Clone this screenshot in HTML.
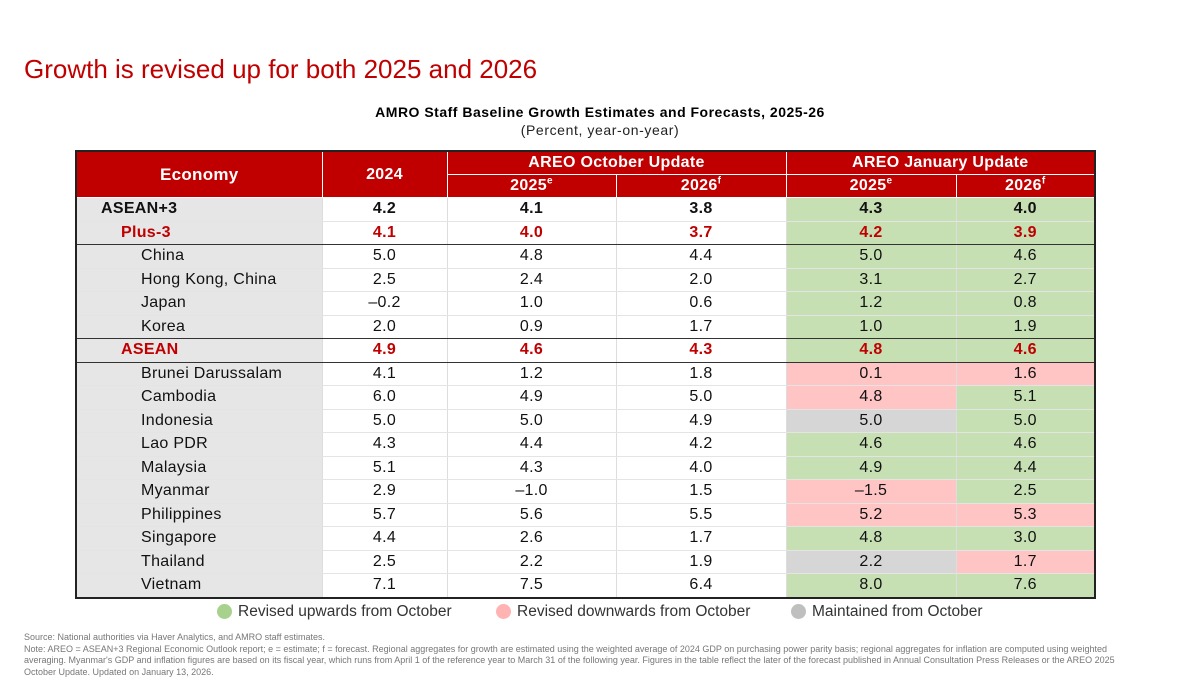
<!DOCTYPE html>
<html><head><meta charset="utf-8"><style>
body{margin:0;width:1200px;height:700px;background:#fff;font-family:"Liberation Sans",sans-serif;position:relative;overflow:hidden}
.t{position:absolute;white-space:nowrap}
table{position:absolute;left:75px;top:150px;border-collapse:collapse;table-layout:fixed;border:2px solid #222}
td{padding:0;font-size:16px;text-align:center;color:#111;border-left:1px solid #ddd;border-bottom:1px solid #e4e4e4;height:22.5px;line-height:20px;letter-spacing:0.3px}
.h td{background:#c00000;color:#fff;font-weight:bold;border-color:#fff;height:22px}
td.n{background:#e6e6e6;text-align:left}
.g{background:#c6e0b4}.p{background:#ffc4c4}.y{background:#d6d6d6}
.b td{font-weight:bold}.r td{color:#c00000}
.dk td{border-bottom:1.5px solid #333}
sup{font-size:10px;line-height:0}
</style></head><body>
<div class="t" style="left:24px;top:54px;font-size:26px;color:#c00000">Growth is revised up for both 2025 and 2026</div>
<div class="t" style="left:0;width:1200px;text-align:center;top:104px;font-size:14px;font-weight:bold;letter-spacing:0.5px">AMRO Staff Baseline Growth Estimates and Forecasts, 2025-26</div>
<div class="t" style="left:0;width:1200px;text-align:center;top:122px;font-size:14px;color:#222;letter-spacing:0.6px">(Percent, year-on-year)</div>
<table>
<colgroup><col style="width:246px"><col style="width:125px"><col style="width:169px"><col style="width:170px"><col style="width:170px"><col style="width:139px"></colgroup>
<tr class="h"><td rowspan="2" style="font-size:17px">Economy</td><td rowspan="2">2024</td><td colspan="2">AREO October Update</td><td colspan="2">AREO January Update</td></tr>
<tr class="h"><td>2025<sup>e</sup></td><td>2026<sup>f</sup></td><td>2025<sup>e</sup></td><td>2026<sup>f</sup></td></tr>
<tr class="b" style="border-bottom:1px solid #888"><td class="n" style="padding-left:24px">ASEAN+3</td><td>4.2</td><td>4.1</td><td>3.8</td><td class="g">4.3</td><td class="g">4.0</td></tr>
<tr class="b r dk"><td class="n" style="padding-left:44px">Plus-3</td><td>4.1</td><td>4.0</td><td>3.7</td><td class="g">4.2</td><td class="g">3.9</td></tr>
<tr><td class="n" style="padding-left:64px">China</td><td>5.0</td><td>4.8</td><td>4.4</td><td class="g">5.0</td><td class="g">4.6</td></tr>
<tr><td class="n" style="padding-left:64px">Hong Kong, China</td><td>2.5</td><td>2.4</td><td>2.0</td><td class="g">3.1</td><td class="g">2.7</td></tr>
<tr><td class="n" style="padding-left:64px">Japan</td><td>–0.2</td><td>1.0</td><td>0.6</td><td class="g">1.2</td><td class="g">0.8</td></tr>
<tr class="dk"><td class="n" style="padding-left:64px">Korea</td><td>2.0</td><td>0.9</td><td>1.7</td><td class="g">1.0</td><td class="g">1.9</td></tr>
<tr class="b r dk"><td class="n" style="padding-left:44px">ASEAN</td><td>4.9</td><td>4.6</td><td>4.3</td><td class="g">4.8</td><td class="g">4.6</td></tr>
<tr><td class="n" style="padding-left:64px">Brunei Darussalam</td><td>4.1</td><td>1.2</td><td>1.8</td><td class="p">0.1</td><td class="p">1.6</td></tr>
<tr><td class="n" style="padding-left:64px">Cambodia</td><td>6.0</td><td>4.9</td><td>5.0</td><td class="p">4.8</td><td class="g">5.1</td></tr>
<tr><td class="n" style="padding-left:64px">Indonesia</td><td>5.0</td><td>5.0</td><td>4.9</td><td class="y">5.0</td><td class="g">5.0</td></tr>
<tr><td class="n" style="padding-left:64px">Lao PDR</td><td>4.3</td><td>4.4</td><td>4.2</td><td class="g">4.6</td><td class="g">4.6</td></tr>
<tr><td class="n" style="padding-left:64px">Malaysia</td><td>5.1</td><td>4.3</td><td>4.0</td><td class="g">4.9</td><td class="g">4.4</td></tr>
<tr><td class="n" style="padding-left:64px">Myanmar</td><td>2.9</td><td>–1.0</td><td>1.5</td><td class="p">–1.5</td><td class="g">2.5</td></tr>
<tr><td class="n" style="padding-left:64px">Philippines</td><td>5.7</td><td>5.6</td><td>5.5</td><td class="p">5.2</td><td class="p">5.3</td></tr>
<tr><td class="n" style="padding-left:64px">Singapore</td><td>4.4</td><td>2.6</td><td>1.7</td><td class="g">4.8</td><td class="g">3.0</td></tr>
<tr><td class="n" style="padding-left:64px">Thailand</td><td>2.5</td><td>2.2</td><td>1.9</td><td class="y">2.2</td><td class="p">1.7</td></tr>
<tr><td class="n" style="padding-left:64px">Vietnam</td><td>7.1</td><td>7.5</td><td>6.4</td><td class="g">8.0</td><td class="g">7.6</td></tr>
</table>
<div class="t" style="left:217px;top:604px;width:15px;height:15px;border-radius:50%;background:#a9d18e"></div>
<div class="t" style="left:238px;top:603px;font-size:15.5px;color:#333">Revised upwards from October</div>
<div class="t" style="left:496px;top:604px;width:15px;height:15px;border-radius:50%;background:#ffb3b3"></div>
<div class="t" style="left:517px;top:603px;font-size:15.5px;color:#333">Revised downwards from October</div>
<div class="t" style="left:791px;top:604px;width:15px;height:15px;border-radius:50%;background:#bfbfbf"></div>
<div class="t" style="left:812px;top:603px;font-size:15.5px;color:#333">Maintained from October</div>
<div class="t" style="left:24px;top:632px;font-size:9px;line-height:11.5px;color:#777;white-space:nowrap">Source: National authorities via Haver Analytics, and AMRO staff estimates.<br>Note: AREO = ASEAN+3 Regional Economic Outlook report; e = estimate; f = forecast. Regional aggregates for growth are estimated using the weighted average of 2024 GDP on purchasing power parity basis; regional aggregates for inflation are computed using weighted<br>averaging. Myanmar's GDP and inflation figures are based on its fiscal year, which runs from April 1 of the reference year to March 31 of the following year. Figures in the table reflect the later of the forecast published in Annual Consultation Press Releases or the AREO 2025<br>October Update. Updated on January 13, 2026.</div>
</body></html>
